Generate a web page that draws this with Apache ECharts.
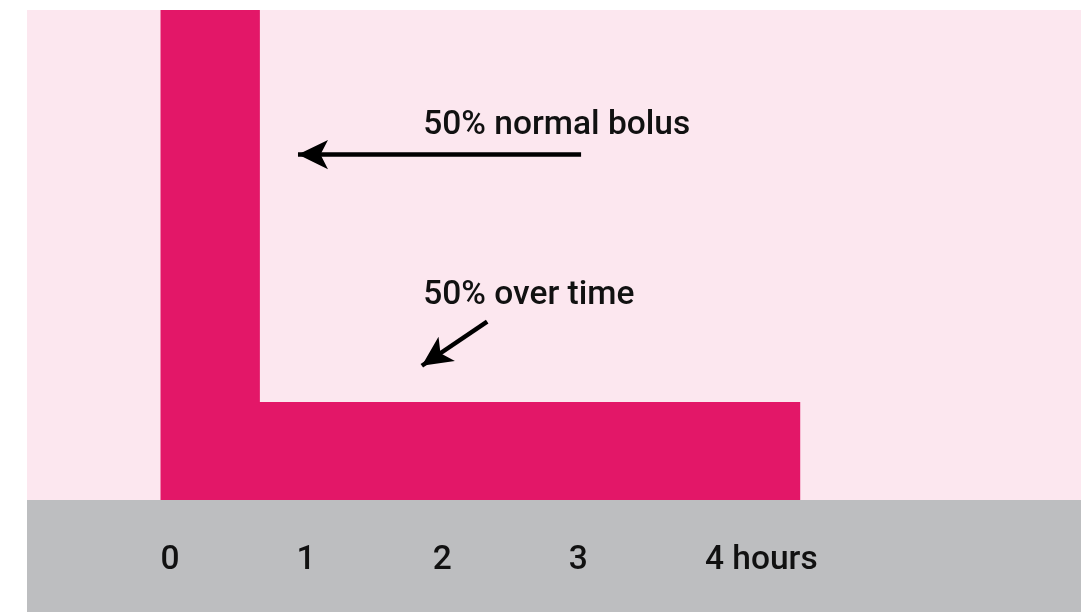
<!DOCTYPE html>
<html>
<head>
<meta charset="utf-8">
<style>
  html, body { margin: 0; padding: 0; background: #ffffff; }
  #chart { width: 1081px; height: 612px; }
</style>
<script src="https://cdn.jsdelivr.net/npm/echarts@6/dist/echarts.min.js"></script>
</head>
<body>
<div id="chart"></div>
<script>
// Insulin delivery profile of a dual-wave bolus (hours vs. relative rate)
const tickHours = [0, 1, 2, 3, 4];
const tickLabels = ['0', '1', '2', '3', '4 hours'];
// Outline of the delivered insulin: a tall normal bolus, then a square wave
const profileHours = [0, 0.73, 0.73, 4.70, 4.70];
const profileRate = [100, 100, 20, 20, 0];
const notes = ['50% normal bolus', '50% over time'];

const FONT = 'Roboto, "Liberation Sans", Arial, sans-serif';
const FONT_SIZE = 33.5;
const chart = echarts.init(document.getElementById('chart'));

const profile = profileHours.map((h, i) => [h, profileRate[i]]);

chart.setOption({
  animation: false,
  backgroundColor: '#ffffff',
  grid: {
    left: 27, right: 0, top: 10, bottom: 112,
    show: true, backgroundColor: '#fce7ef', borderWidth: 0
  },
  xAxis: {
    type: 'value', min: -0.981, max: 6.763,
    splitLine: { show: false },
    axisLine: { show: false },
    axisTick: { show: false },
    axisLabel: {
      customValues: tickHours,
      formatter: v => tickLabels[tickHours.indexOf(v)],
      align: 'left', verticalAlign: 'middle',
      margin: 61,
      color: '#111111', fontFamily: FONT, fontWeight: 500, fontSize: FONT_SIZE
    }
  },
  yAxis: {
    type: 'value', min: 0, max: 100, show: false
  },
  series: [{
    type: 'line',
    data: profile,
    symbol: 'none',
    lineStyle: { width: 0 },
    areaStyle: { color: '#e31768', opacity: 1 },
    markLine: {
      silent: true,
      symbol: ['none', 'arrow'],
      symbolSize: [22, 30],
      label: { show: false },
      lineStyle: { color: '#000000', width: 4.5, type: 'solid' },
      data: [
        [{ coord: [3.09, 70.5] }, { coord: [1.01, 70.5] }],
        [{ coord: [2.40, 36.4] }, { coord: [1.92, 27.4] }]
      ]
    }
  }]
});

// Gray time band below the plot, and the annotation texts in data coordinates
const notePos = [[1.93, 74.7], [1.93, 40.0]];
const band = {
  id: 'band', type: 'rect', z: -1,
  shape: { x: 27, y: 500, width: 1054, height: 112 },
  style: { fill: '#bdbec0' }
};
chart.setOption({
  graphic: [band].concat(notes.map((t, i) => {
    const p = chart.convertToPixel({ gridIndex: 0 }, notePos[i]);
    return {
      id: 'note' + i, type: 'text', x: p[0], y: p[1] - 8, z: 10,
      style: {
        text: t, fill: '#111111', font: '500 ' + FONT_SIZE + 'px ' + FONT,
        textAlign: 'left', textVerticalAlign: 'middle'
      }
    };
  }))
});
</script>
</body>
</html>
